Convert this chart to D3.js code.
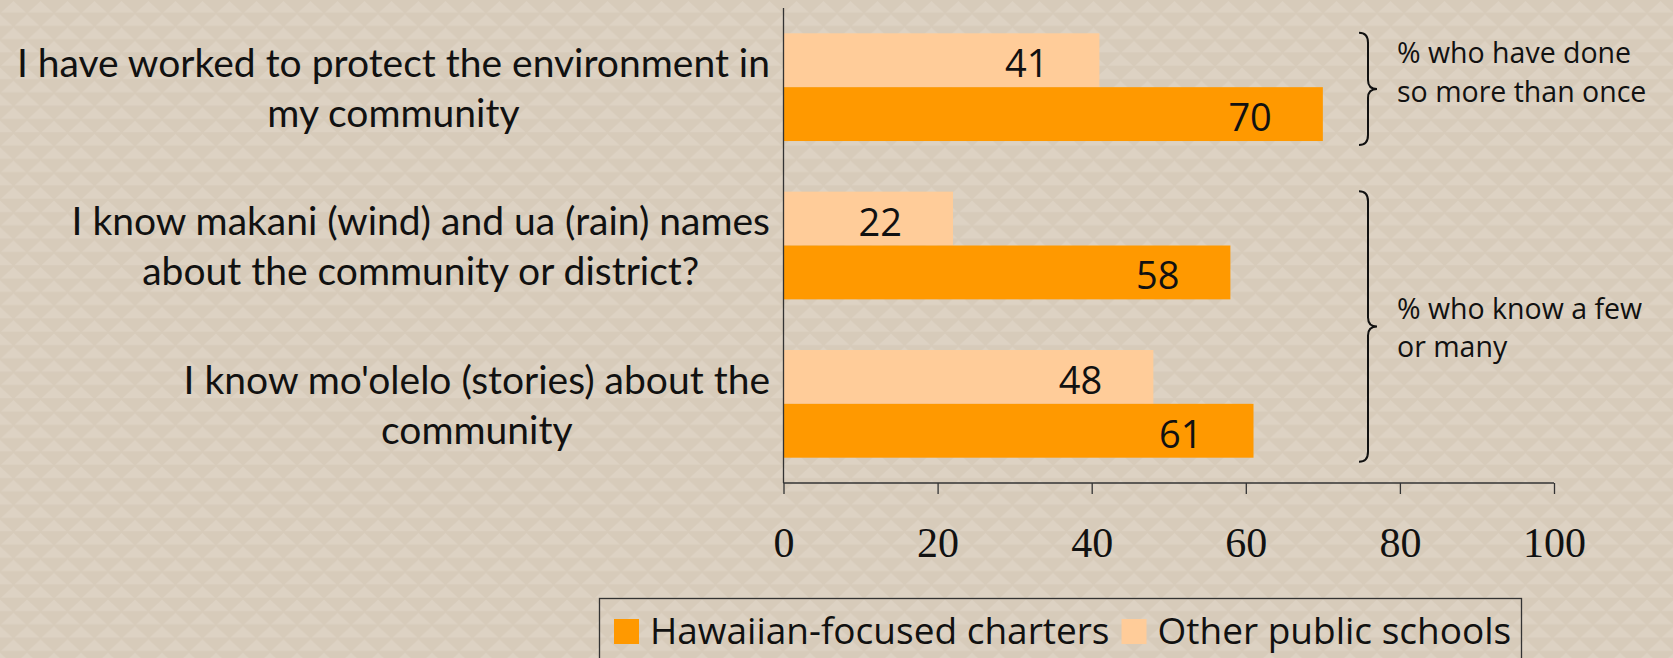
<!DOCTYPE html>
<html>
<head>
<meta charset="utf-8">
<script src="https://cdn.jsdelivr.net/npm/d3@7"></script>
<style>
  body { margin: 0; background: #d8ccbb; }
  svg { display: block; }
</style>
</head>
<body>
<script>
const width = 1673;
const height = 658;

// chart data
const categories = [
    ["I have worked to protect the environment in", "my community"],
    ["I know makani (wind) and ua (rain) names", "about the community or district?"],
    ["I know mo'olelo (stories) about the", "community"]
];
const seriesNames = ["Other public schools", "Hawaiian-focused charters"];
const otherSchools = [41, 22, 48];
const hawaiianCharters = [70, 58, 61];
const xTicks = [0, 20, 40, 60, 80, 100];
const braceNotes = [
    { from: 0, to: 0, lines: ["% who have done", "so more than once"] },
    { from: 1, to: 2, lines: ["% who know a few", "or many"] }
];
const legendOrder = ["Hawaiian-focused charters", "Other public schools"];

const colors = {
    "Hawaiian-focused charters": "#ff9900",
    "Other public schools": "#ffcc99"
};

const svg = d3.select("body")
    .append("svg")
    .attr("width", width)
    .attr("height", height);

// textured background - rows of faint light triangles
const defs = svg.append("defs");
const pat = defs.append("pattern")
    .attr("id", "tri")
    .attr("width", 27)
    .attr("height", 26.6)
    .attr("patternUnits", "userSpaceOnUse");
pat.append("rect").attr("width", 27).attr("height", 26.6).attr("fill", "#d7cbba");
pat.append("path").attr("d", "M1 12.5 L13.5 1 L26 12.5 Z").attr("fill", "#ddd2c3");
pat.append("path").attr("d", "M-12.5 25.8 L0 14.3 L12.5 25.8 Z M14.5 25.8 L27 14.3 L39.5 25.8 Z").attr("fill", "#ddd2c3");

svg.append("rect")
    .attr("width", width)
    .attr("height", height)
    .attr("fill", "url(#tri)");

const x = d3.scaleLinear().domain([0, 100]).range([783.5, 1554]);
const y0 = d3.scaleBand().domain(d3.range(categories.length)).range([8, 483]);
const y1 = d3.scaleBand().domain(seriesNames).range([0, y0.bandwidth()]).paddingOuter(0.47);

const values = { "Other public schools": otherSchools, "Hawaiian-focused charters": hawaiianCharters };

// bars
const groups = svg.append("g").selectAll("g")
    .data(categories)
    .join("g")
    .attr("transform", (d, i) => `translate(0,${y0(i)})`);

groups.each(function(cat, i) {
    const g = d3.select(this);
    seriesNames.forEach(s => {
        const v = values[s][i];
        g.append("rect")
            .attr("x", x(0))
            .attr("y", y1(s))
            .attr("width", x(v) - x(0))
            .attr("height", y1.bandwidth())
            .attr("fill", colors[s]);
        g.append("text")
            .attr("x", x(v) - 51)
            .attr("y", y1(s) + y1.bandwidth() / 2 + 2)
            .attr("text-anchor", "end")
            .attr("dominant-baseline", "central")
            .attr("font-family", "'Open Sans', sans-serif")
            .attr("font-size", "38px")
            .attr("fill", "#111")
            .text(v);
    });

    // category label: lines centred on each other, block pushed against the axis
    const lbl = g.append("text")
        .attr("text-anchor", "middle")
        .attr("font-family", "'Lato', sans-serif")
        .attr("font-size", "39px")
        .attr("fill", "#111");
    const spans = cat.map((line, k) => lbl.append("tspan")
        .attr("y", y0.bandwidth() / 2 - 10 + k * 50)
        .text(line));
    const maxW = d3.max(spans, sp => sp.node().getComputedTextLength());
    spans.forEach(sp => sp.attr("x", 770 - maxW / 2));
});

// axes
const xAxis = svg.append("g")
    .attr("transform", "translate(0,483)")
    .call(d3.axisBottom(x).tickValues(xTicks).tickSize(11).tickFormat(""));
xAxis.select(".domain").attr("stroke", "#333").attr("stroke-width", 1.3).attr("d", `M${x(0)},0H${x(100)}`);
xAxis.selectAll(".tick line").attr("stroke", "#333").attr("stroke-width", 1.3);

xAxis.selectAll(".tick").append("text")
    .attr("y", 74)
    .attr("text-anchor", "middle")
    .attr("font-family", "'Liberation Serif', serif")
    .attr("font-size", "42px")
    .attr("fill", "#111")
    .text(d => d);

svg.append("line")
    .attr("x1", x(0)).attr("x2", x(0))
    .attr("y1", 8).attr("y2", 483)
    .attr("stroke", "#333")
    .attr("stroke-width", 1.3);

// braces on the right
braceNotes.forEach(b => {
    const top = y0(b.from) + y1(seriesNames[0]) - 0.5;
    const bot = y0(b.to) + y1(seriesNames[1]) + y1.bandwidth() + 4;
    const mid = (top + bot) / 2;
    const sx = 1368, lx = 1359, tx = 1377;
    const path = `M${lx},${top} Q${sx},${top} ${sx},${top + 10} L${sx},${mid - 9} Q${sx},${mid} ${tx},${mid}`
        + ` Q${sx},${mid} ${sx},${mid + 9} L${sx},${bot - 10} Q${sx},${bot} ${lx},${bot}`;
    svg.append("path")
        .attr("d", path)
        .attr("fill", "none")
        .attr("stroke", "#111")
        .attr("stroke-width", 2);

    const note = svg.append("text")
        .attr("font-family", "'Open Sans', sans-serif")
        .attr("font-size", "28.5px")
        .attr("fill", "#111");
    b.lines.forEach((line, k) => {
        note.append("tspan")
            .attr("x", 1397)
            .attr("y", b.from === b.to ? top + 30 + k * 39 : mid - 7 + k * 38)
            .text(line);
    });
});

// legend
const legend = svg.append("g");
legend.append("rect")
    .attr("x", 599.5)
    .attr("y", 598.5)
    .attr("width", 922)
    .attr("height", 80)
    .attr("fill", "none")
    .attr("stroke", "#333")
    .attr("stroke-width", 1.3);

let lx = 614;
legendOrder.forEach(s => {
    legend.append("rect")
        .attr("x", lx)
        .attr("y", 619)
        .attr("width", 25)
        .attr("height", 25)
        .attr("fill", colors[s]);
    const t = legend.append("text")
        .attr("x", lx + 36)
        .attr("y", 644)
        .attr("font-family", "'Open Sans', sans-serif")
        .attr("font-size", "37px")
        .attr("fill", "#111")
        .text(s);
    lx += 36 + t.node().getComputedTextLength() + 12;
});
</script>
</body>
</html>
